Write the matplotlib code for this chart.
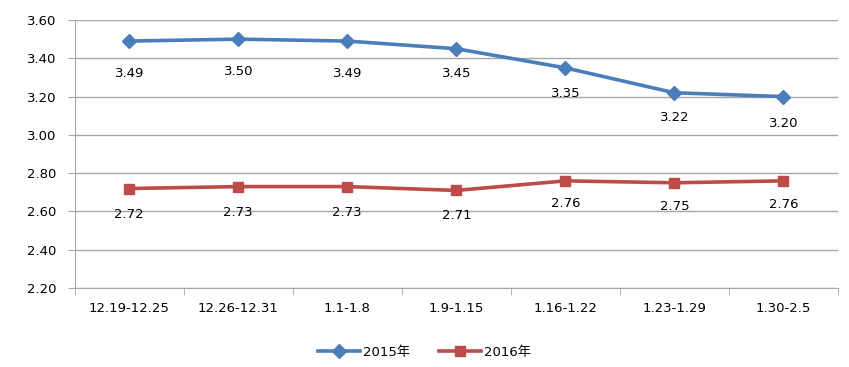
import matplotlib
matplotlib.use("Agg")
import matplotlib.pyplot as plt
import numpy as np

plt.rcParams['font.family'] = ['DejaVu Sans', 'Noto Sans CJK SC']

categories = ["12.19-12.25", "12.26-12.31", "1.1-1.8", "1.9-1.15",
              "1.16-1.22", "1.23-1.29", "1.30-2.5"]
prices_2015 = [3.49, 3.50, 3.49, 3.45, 3.35, 3.22, 3.20]
prices_2016 = [2.72, 2.73, 2.73, 2.71, 2.76, 2.75, 2.76]
series_names = ["2015年", "2016年"]
y_ticks = [2.20, 2.40, 2.60, 2.80, 3.00, 3.20, 3.40, 3.60]

blue = "#4A7EBB"
red = "#BE4B48"
grid_col = "#A6A6A6"

fig = plt.figure(figsize=(8.49, 3.67), dpi=100)
ax = fig.add_axes([0.088, 0.215, 0.899, 0.7305])

x = np.arange(len(categories))
ax.plot(x, prices_2015, color=blue, lw=2.6, marker="D", ms=7, label=series_names[0])
ax.plot(x, prices_2016, color=red, lw=2.6, marker="s", ms=7.5, label=series_names[1])

# label offsets below the points (px), first ones sit a bit lower in the original
offs_2015 = [-32, -32, -32, -25, -26, -25, -27]
offs_2016 = [-26, -26, -26, -25, -23, -24, -24]
for xi, v, o in zip(x, prices_2015, offs_2015):
    ax.annotate(f"{v:.2f}", (xi, v), xytext=(0, o * 0.72), textcoords="offset points",
                ha="center", va="center", fontsize=9.5)
for xi, v, o in zip(x, prices_2016, offs_2016):
    ax.annotate(f"{v:.2f}", (xi, v), xytext=(0, o * 0.72), textcoords="offset points",
                ha="center", va="center", fontsize=9.5)

ax.set_xlim(-0.5, len(categories) - 0.5)
ax.set_ylim(2.20, 3.60)
ax.set_yticks(y_ticks)
ax.set_yticklabels([f"{t:.2f}" for t in y_ticks], fontsize=9.5)
ax.set_xticks(x)
ax.set_xticklabels(categories, fontsize=9.5)
ax.set_xticks(np.arange(-0.5, len(categories)), minor=True)
ax.tick_params(axis="x", which="major", length=0, pad=10)
ax.tick_params(axis="x", which="minor", length=5, color=grid_col)
ax.tick_params(axis="y", length=5, color=grid_col, pad=8)

ax.grid(axis="y", color=grid_col, lw=1)
ax.set_axisbelow(True)
for side in ["top", "right"]:
    ax.spines[side].set_visible(False)
ax.spines["left"].set_color(grid_col)
ax.spines["bottom"].set_color(grid_col)

fig.legend(loc="center", bbox_to_anchor=(0.5, 0.04), ncol=2, frameon=False,
           fontsize=9.5, handlelength=3.2, columnspacing=2.2, handletextpad=0.2)

fig.savefig("out.png", dpi=100)
